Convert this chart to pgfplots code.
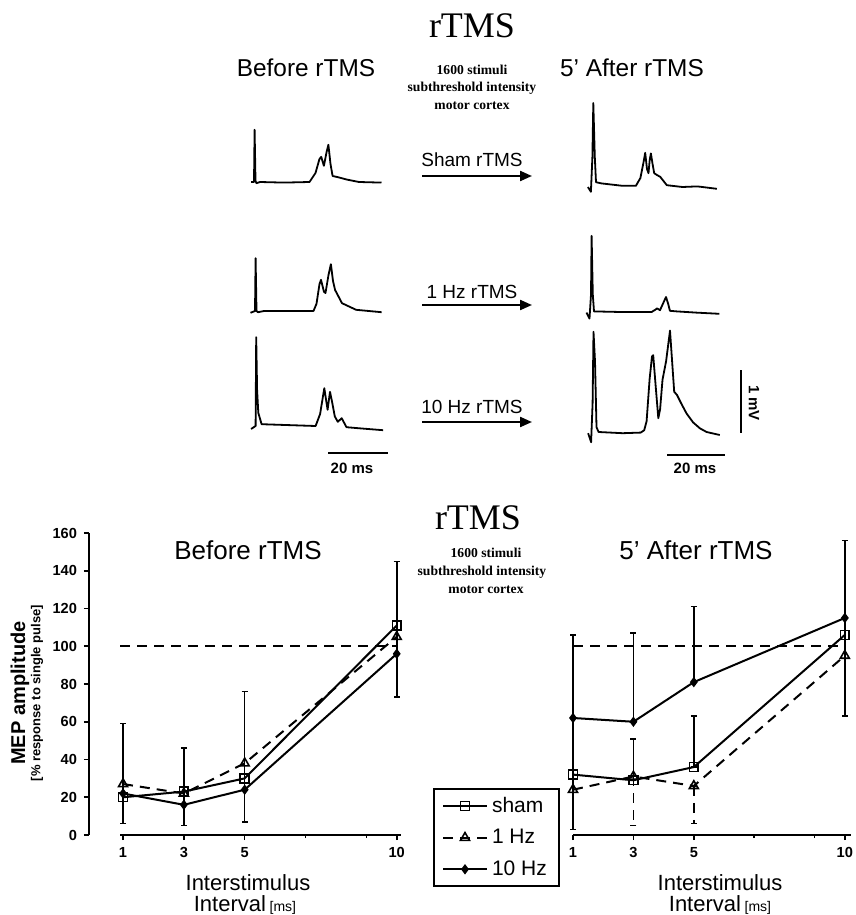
\documentclass[border=0pt]{standalone}
\usepackage{fontspec}
\setmainfont{Liberation Sans}
\newfontfamily\serif{Liberation Serif}
\usepackage{pgfplots}
\pgfplotsset{compat=1.18}
\usetikzlibrary{arrows.meta}

\newcommand\fs[1]{\fontsize{#1}{#1}\selectfont}

\pgfplotsset{
  trace/.style={hide axis, anchor=origin, x=1.5pt, y=30pt,
    xmin=-2, xmax=45, ymin=-0.3, ymax=1.9, clip=false},
  tr/.style={black, line width=0.9pt, line join=round, no marks},
  panel/.style={
    anchor=south west, scale only axis, height=151pt,
    ymin=0, ymax=160, clip=false,
    axis x line*=bottom, x axis line style={draw=none},
    xtick={1,3,5,10}, minor xtick={7,9},
    tick align=outside, major tick length=2.5pt, minor tick length=1.5pt,
    tick style={black, line width=0.8pt},
    /pgf/number format/assume math mode=true,
    ticklabel style={font=\bfseries\fs{7.3}},
    legend image code/.code={\draw[mark repeat=2,mark phase=2,##1]
      plot coordinates {(0pt,0pt) (11pt,0pt) (22pt,0pt)};},
  },
  sham/.style={black, line width=1pt, mark=square, mark size=2.2pt,
    mark options={solid, fill=white, line width=0.8pt},
    error bars/.cd, y dir=both, y explicit,
    error mark options={rotate=90, mark size=1.5pt, line width=0.8pt},
    error bar style={line width=0.8pt}},
  onehz/.style={black, line width=1pt, dash pattern=on 5pt off 3.5pt,
    mark=triangle, mark size=2.6pt,
    mark options={solid, fill=white, line width=0.8pt},
    error bars/.cd, y dir=both, y explicit,
    error mark options={rotate=90, mark size=1.5pt, line width=0.8pt},
    error bar style={line width=0.8pt}},
  tenhz/.style={black, line width=1pt, mark=diamond*, mark size=1.8pt,
    mark options={solid},
    error bars/.cd, y dir=both, y explicit,
    error mark options={rotate=90, mark size=1.5pt, line width=0.8pt},
    error bar style={line width=0.8pt}},
}

\begin{document}
\begin{tikzpicture}
\path[use as bounding box] (0,0) rectangle (428pt,-457.5pt);

% ---------- raw traces (ms, mV) ----------
\begin{axis}[trace, at={(127pt,-91pt)}]
\addplot[tr] coordinates {(-1,0) (0,0) (0.2,0.87) (0.5,0.02) (0.8,-0.02) (2,0) (10,-0.01) (18.5,0) (20.5,0.15) (21.8,0.38) (22.4,0.42) (23.3,0.27) (24.2,0.5) (24.8,0.62) (25.5,0.3) (26.2,0.1) (28,0.08) (31,0.04) (35,0) (42.5,-0.01)};
\end{axis}
\begin{axis}[trace, at={(127.5pt,-155.5pt)}]
\addplot[tr] coordinates {(-1.5,-0.03) (0,0) (0.2,0.88) (0.5,0) (1,-0.02) (3,0) (19.5,0) (20.5,0.12) (21.5,0.45) (22,0.52) (23,0.32) (23.5,0.3) (24.5,0.6) (25.3,0.78) (26,0.5) (26.7,0.35) (29,0.13) (33.7,0.02) (42.2,-0.02)};
\end{axis}
\begin{axis}[trace, at={(127.8pt,-213pt)}]
\addplot[tr] coordinates {(-1.5,-0.05) (0,0) (0.2,1.48) (0.5,0.6) (0.9,0.22) (2,0.03) (20,0) (21.5,0.2) (22.9,0.63) (24,0.27) (24.8,0.57) (25.5,0.4) (26.4,0.16) (27.4,0.07) (28.7,0.13) (30.3,-0.02) (35,-0.04) (42.5,-0.07)};
\end{axis}
\begin{axis}[trace, at={(296.2pt,-93.5pt)}]
\addplot[tr] coordinates {(-1.5,0) (-0.5,-0.08) (0,0.5) (0.3,1.4) (0.8,0.5) (1.2,0.08) (3,0.06) (10,0.02) (14.5,0.02) (16,0.15) (17,0.4) (17.6,0.57) (18.2,0.3) (18.7,0.23) (19.1,0.45) (19.5,0.56) (20,0.4) (20.6,0.23) (21.5,0.2) (22.6,0.17) (24.8,0.03) (30,0) (35,0.01) (41.5,-0.03)};
\end{axis}
\begin{axis}[trace, at={(295.5pt,-156.3pt)}]
\addplot[tr] coordinates {(-1.5,0) (-0.5,-0.1) (0,0.3) (0.2,1.28) (0.6,0.3) (1,0.02) (10,0.01) (20.2,0.01) (21.5,0.05) (22,0.07) (23,0.04) (24,0.15) (25,0.26) (25.7,0.15) (26.3,0.03) (28.6,0.02) (35,0) (42.8,-0.02)};
\end{axis}
\begin{axis}[trace, at={(296.3pt,-216.6pt)}]
\addplot[tr] coordinates {(-1.5,0) (-0.5,-0.15) (0,0.5) (0.3,1.69) (0.8,1.2) (1.3,0.1) (2,0.02) (10,0) (16,0.01) (17.2,0.05) (18,0.2) (19,0.9) (19.8,1.28) (20.2,1.3) (21,0.8) (21.9,0.25) (22.5,0.4) (23.3,0.89) (24.5,1.2) (25.8,1.71) (26.5,1.2) (27.2,0.69) (28.1,0.64) (29.5,0.5) (31.3,0.33) (33.5,0.18) (35.8,0.08) (38,0.02) (42.4,-0.03)};
\end{axis}

% ---------- Before rTMS panel ----------
\begin{axis}[panel, at={(44.5pt,-417.5pt)}, width=156.9pt,
  xmin=-0.12, xmax=10.2,
  axis y line*=left, y axis line style={line width=1pt},
  ytick={0,20,...,160}]
\draw[line width=1pt] (axis cs:0.9,0) -- (axis cs:10.15,0);
\addplot[black, line width=1pt, dash pattern=on 5pt off 3.5pt] coordinates {(0.9,100) (10,100)};
\addplot[sham] coordinates {(1,20) += (0,39) -= (0,14) (3,23) += (0,23) -= (0,18) (5,30) += (0,46) -= (0,23) (10,111) += (0,34) -= (0,38)};
\addplot[onehz] coordinates {(1,27) (3,22) (5,38) (10,105)};
\addplot[tenhz] coordinates {(1,22) (3,16) (5,24) (10,96)};
\end{axis}

% ---------- 5' After rTMS panel ----------
\begin{axis}[panel, at={(278.95pt,-417.5pt)}, width=146.5pt,
  xmin=0.5, xmax=10.2, axis y line=none,
  legend style={at={(axis description cs:-0.426,0.156)}, anchor=north west,
    draw=black, line width=0.9pt, font=\fs{10.5}, row sep=3pt,
    inner xsep=4pt, inner ysep=2pt},
  legend cell align=left]
\draw[line width=1pt] (axis cs:1,0) -- (axis cs:10.2,0);
\addplot[black, line width=1pt, dash pattern=on 5pt off 3.5pt, forget plot] coordinates {(1,100) (10,100)};
\addplot[sham] coordinates {(1,32) (3,29) += (0,22) -= (0,0) (5,36) += (0,27) -= (0,0) (10,106)};
\addplot[onehz] coordinates {(1,24) (3,31) += (0,0) -= (0,26) (5,26) += (0,0) -= (0,20) (10,95)};
\addplot[tenhz] coordinates {(1,62) += (0,44) -= (0,59) (3,60) += (0,47) -= (0,0) (5,81) += (0,40) -= (0,0) (10,115) += (0,41) -= (0,52)};
\legend{sham, 1 Hz, 10 Hz}
\end{axis}

% ---------- texts, arrows, scale bars (pixel units) ----------
\begin{scope}[x=0.5pt, y=-0.5pt]
% top
\node at (306,68) {\fs{12.2}Before rTMS};
\node at (632,68) {\fs{12.2}5\symbol{39} After rTMS};
\node at (472,26) {\serif\fs{18}rTMS};
\node at (472,70) {\serif\bfseries\fs{6.8}1600 stimuli};
\node at (472,88) {\serif\bfseries\fs{6.8}subthreshold intensity};
\node at (472,106) {\serif\bfseries\fs{6.8}motor cortex};
\node at (472,160) {\fs{9.5}Sham rTMS};
\node at (472,292) {\fs{9.5}1 Hz rTMS};
\node at (472,407) {\fs{9.5}10 Hz rTMS};
\foreach \yy in {176,305,422}
  \draw[line width=1.1pt, -{Triangle[length=6pt,width=5pt]}] (422,\yy) -- (532,\yy);
% scale bars
\draw[line width=1pt] (328,453) -- (388,453);
\node at (352,468) {\bfseries\fs{7.5}20 ms};
\draw[line width=1pt] (667,455) -- (725,455);
\node at (695,468) {\bfseries\fs{7.5}20 ms};
\draw[line width=1.2pt] (741,370) -- (741,433);
\node[rotate=-90] at (754,403) {\bfseries\fs{7.5}1 mV};
% bottom
\node at (248,550) {\fs{13}Before rTMS};
\node at (696,550) {\fs{13}5\symbol{39} After rTMS};
\node at (478,518) {\serif\fs{18}rTMS};
\node at (486,553) {\serif\bfseries\fs{6.8}1600 stimuli};
\node at (482,572) {\serif\bfseries\fs{6.8}subthreshold intensity};
\node at (486,590) {\serif\bfseries\fs{6.8}motor cortex};
\node[rotate=90] at (20,693) {\bfseries\fs{10}MEP amplitude};
\node[rotate=90] at (37,693) {\bfseries\fs{6.5}[\% response to single pulse]};
\node at (248,883) {\fs{11}Interstimulus};
\node at (245,905) {\fs{11}Interval\,{\fs{7}[ms]}};
\node at (720,883) {\fs{11}Interstimulus};
\node at (720,905) {\fs{11}Interval\,{\fs{7}[ms]}};
\end{scope}
\end{tikzpicture}
\end{document}
